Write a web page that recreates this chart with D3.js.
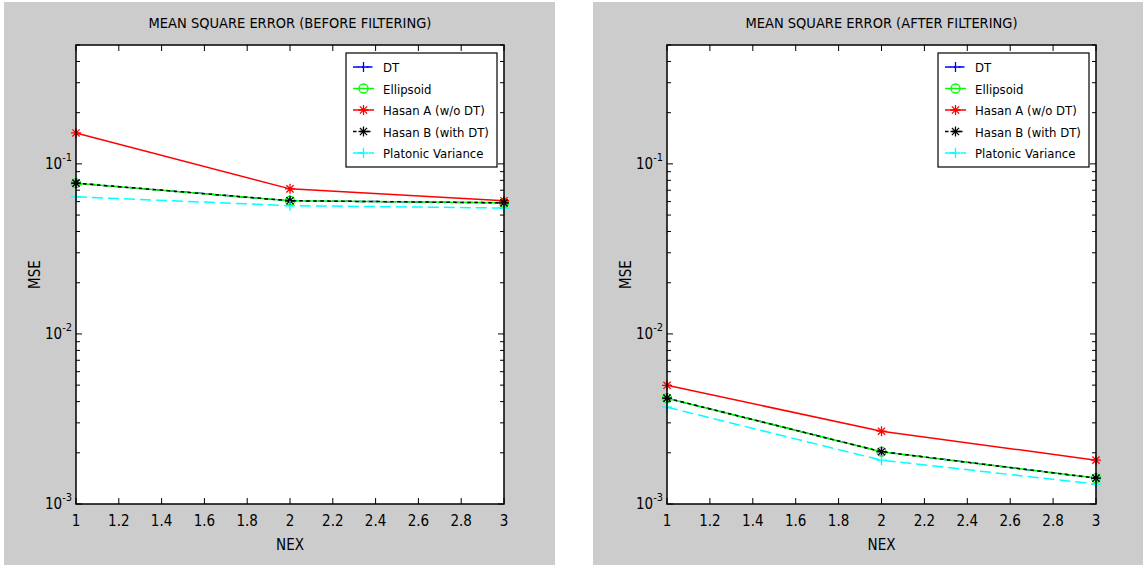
<!DOCTYPE html>
<html>
<head>
<meta charset="utf-8">
<script src="https://d3js.org/d3.v7.min.js"></script>
<style>
  body { margin: 0; background: #fff; }
  text { font-family: "Liberation Sans Narrow", "DejaVu Sans Condensed", "Liberation Sans", Arial, sans-serif; fill: #000; }
  .axis-line { fill: none; stroke: #000; stroke-width: 1.5px; }
  .tick { stroke: #000; stroke-width: 1px; }
</style>
</head>
<body>
<svg id="chart" width="1143" height="566"></svg>
<script>
// data
var nex = [1, 2, 3];
var xTicks = [1, 1.2, 1.4, 1.6, 1.8, 2, 2.2, 2.4, 2.6, 2.8, 3];
var yMajor = [1e-3, 1e-2, 1e-1];
var seriesNames = ["DT", "Ellipsoid", "Hasan A (w/o DT)", "Hasan B (with DT)", "Platonic Variance"];

var dtBefore        = [0.077, 0.0607, 0.059];
var ellipsoidBefore = [0.077, 0.0607, 0.059];
var hasanABefore    = [0.152, 0.0713, 0.0607];
var hasanBBefore    = [0.077, 0.0607, 0.059];
var platonicBefore  = [0.064, 0.0568, 0.055];

var dtAfter        = [0.00419, 0.00203, 0.00142];
var ellipsoidAfter = [0.00419, 0.00203, 0.00142];
var hasanAAfter    = [0.00499, 0.00268, 0.00181];
var hasanBAfter    = [0.00419, 0.00203, 0.00142];
var platonicAfter  = [0.00371, 0.00181, 0.00131];

// line styles for each series
var styles = [
  {color: "#0000ff", dash: "6,3,1.5,3", marker: "plus"},
  {color: "#00ff00", dash: null, marker: "circle"},
  {color: "#ff0000", dash: null, marker: "star"},
  {color: "#000000", dash: "3.5,3.5", marker: "star"},
  {color: "#00ffff", dash: "11,5", marker: "plus"}
];

var svg = d3.select("#chart");

function drawMarker(g, type, x, y, color) {
  var s = 5;
  if (type === "circle") {
    g.append("circle").attr("cx", x).attr("cy", y).attr("r", 4.5)
      .attr("fill", "none").attr("stroke", color).attr("stroke-width", 1.3);
    return;
  }
  var path = "M" + (x - s) + "," + y + "H" + (x + s) + "M" + x + "," + (y - s) + "V" + (y + s);
  if (type === "star") {
    var d = s * 0.72;
    path += "M" + (x - d) + "," + (y - d) + "L" + (x + d) + "," + (y + d) +
            "M" + (x - d) + "," + (y + d) + "L" + (x + d) + "," + (y - d);
  }
  g.append("path").attr("d", path).attr("stroke", color).attr("stroke-width", 1.3).attr("fill", "none");
}

function drawPanel(opts) {
  var bg = opts.bg;
  svg.append("rect").attr("x", bg[0]).attr("y", bg[1]).attr("width", bg[2]).attr("height", bg[3])
    .attr("fill", "#cccccc");

  var x = d3.scaleLinear().domain([1, 3]).range([opts.left, opts.right]);
  var y = d3.scaleLog().domain([1e-3, 0.5]).range([opts.bottom, opts.top]);
  var g = svg.append("g");

  g.append("rect").attr("x", opts.left).attr("y", opts.top)
    .attr("width", opts.right - opts.left).attr("height", opts.bottom - opts.top)
    .attr("fill", "#fff");

  // x ticks (inside, bottom and top)
  xTicks.forEach(function(t) {
    var px = x(t);
    g.append("line").attr("class", "tick").attr("x1", px).attr("x2", px)
      .attr("y1", opts.bottom).attr("y2", opts.bottom - 6);
    g.append("line").attr("class", "tick").attr("x1", px).attr("x2", px)
      .attr("y1", opts.top).attr("y2", opts.top + 6);
    g.append("text").attr("x", px).attr("y", opts.bottom + 22)
      .attr("text-anchor", "middle").style("font-size", "15px").text(d3.format("")(t));
  });

  // y ticks: log major + minor
  var yTickVals = y.ticks();
  yTickVals.forEach(function(t) {
    var py = y(t);
    var major = yMajor.indexOf(t) >= 0;
    var len = major ? 6 : 4;
    g.append("line").attr("class", "tick").attr("x1", opts.left).attr("x2", opts.left + len)
      .attr("y1", py).attr("y2", py);
    g.append("line").attr("class", "tick").attr("x1", opts.right).attr("x2", opts.right - len)
      .attr("y1", py).attr("y2", py);
  });
  yMajor.forEach(function(t) {
    var py = y(t);
    var lab = g.append("text").attr("x", opts.left - 4).attr("y", py + 5)
      .attr("text-anchor", "end").style("font-size", "15px");
    lab.append("tspan").text("10");
    lab.append("tspan").attr("dy", -8).style("font-size", "11px").text(Math.round(Math.log10(t)));
  });

  // series
  var line = d3.line().x(function(d, i) { return x(nex[i]); }).y(function(d) { return y(d); });
  opts.series.forEach(function(vals, k) {
    var st = styles[k];
    g.append("path").attr("d", line(vals)).attr("fill", "none")
      .attr("stroke", st.color).attr("stroke-width", 1.5)
      .attr("stroke-dasharray", st.dash);
    vals.forEach(function(v, i) { drawMarker(g, st.marker, x(nex[i]), y(v), st.color); });
  });

  // frame
  g.append("rect").attr("class", "axis-line").attr("x", opts.left).attr("y", opts.top)
    .attr("width", opts.right - opts.left).attr("height", opts.bottom - opts.top);

  // legend
  var lx = opts.right - 158, ly = opts.top + 8, lw = 151, lh = 114;
  var leg = g.append("g");
  leg.append("rect").attr("x", lx).attr("y", ly).attr("width", lw).attr("height", lh)
    .attr("fill", "#fff").attr("stroke", "#000").attr("stroke-width", 1.2);
  seriesNames.forEach(function(name, k) {
    var st = styles[k];
    var ey = ly + 14 + k * 21.5;
    leg.append("line").attr("x1", lx + 7).attr("x2", lx + 28).attr("y1", ey).attr("y2", ey)
      .attr("stroke", st.color).attr("stroke-width", 1.5).attr("stroke-dasharray", st.dash);
    drawMarker(leg, st.marker, lx + 17.5, ey, st.color);
    leg.append("text").attr("x", lx + 37).attr("y", ey + 5).style("font-size", "13px").text(name);
  });

  // titles
  var cx = (opts.left + opts.right) / 2;
  svg.append("text").attr("x", cx).attr("y", 28).attr("text-anchor", "middle")
    .style("font-size", "14.5px").text(opts.title);
  svg.append("text").attr("x", cx).attr("y", 550).attr("text-anchor", "middle")
    .style("font-size", "15px").text("NEX");
  svg.append("text").attr("transform", "translate(" + (opts.left - 36) + "," + ((opts.top + opts.bottom) / 2) + ") rotate(-90)")
    .attr("text-anchor", "middle").style("font-size", "15px").text("MSE");
}

drawPanel({
  bg: [4, 2, 551, 563], left: 76, right: 504, top: 45, bottom: 504,
  title: "MEAN SQUARE ERROR (BEFORE FILTERING)",
  series: [dtBefore, ellipsoidBefore, hasanABefore, hasanBBefore, platonicBefore]
});
drawPanel({
  bg: [593, 2, 550, 563], left: 667, right: 1096, top: 45, bottom: 504,
  title: "MEAN SQUARE ERROR (AFTER FILTERING)",
  series: [dtAfter, ellipsoidAfter, hasanAAfter, hasanBAfter, platonicAfter]
});
</script>
</body>
</html>
